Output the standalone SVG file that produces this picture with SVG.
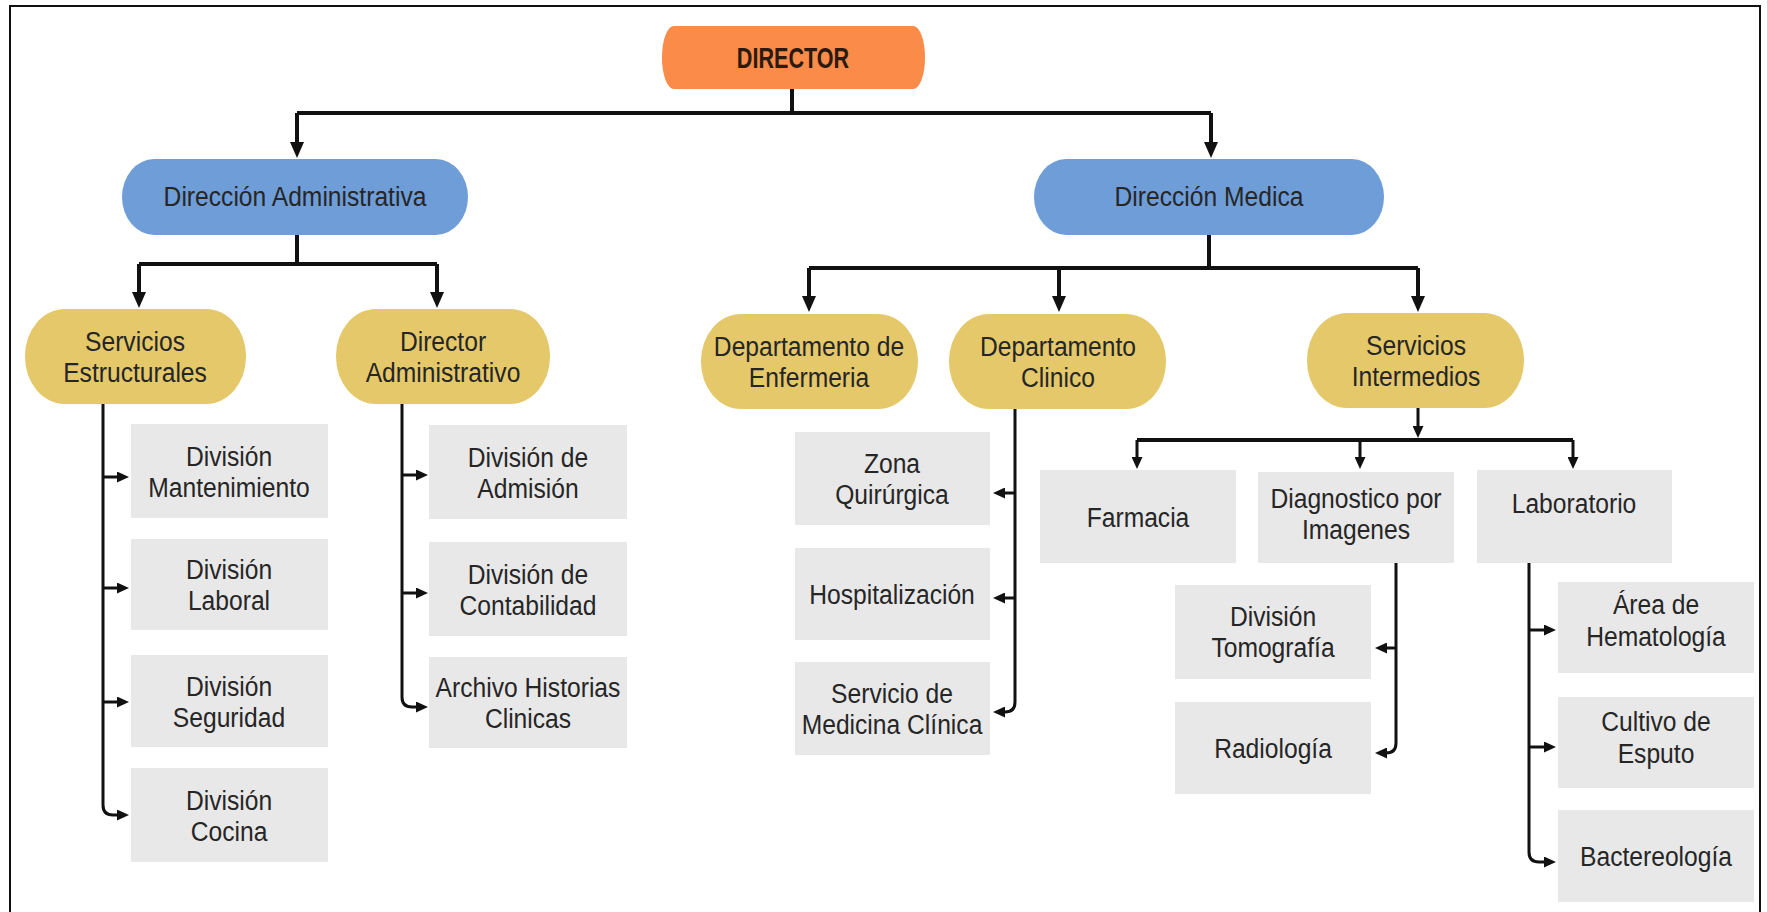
<svg xmlns="http://www.w3.org/2000/svg" width="1767" height="912" viewBox="0 0 1767 912">
<style>
.t{font-family:"Liberation Sans",Arial,sans-serif;font-size:28px;fill:#262626;text-anchor:middle}
.tb{font-family:"Liberation Sans",Arial,sans-serif;font-size:30px;font-weight:bold;fill:#2a1a10;text-anchor:middle}
.or{fill:#FA8B48}
.bl{fill:#6E9DD8}
.ye{fill:#E4C86A}
.gr{fill:#E8E8E8}
.c{fill:none;stroke:#111;stroke-width:4}
.cs{fill:none;stroke:#111;stroke-width:3}
</style>
<defs>
<marker id="ah" viewBox="0 0 16 14" refX="11" refY="7" markerWidth="16" markerHeight="14" markerUnits="userSpaceOnUse" orient="auto"><path d="M0,0 L16,7 L0,14 z" fill="#111"/></marker>
<marker id="as" viewBox="0 0 12 11" refX="7" refY="5.5" markerWidth="12" markerHeight="11" markerUnits="userSpaceOnUse" orient="auto"><path d="M0,0 L12,5.5 L0,11 z" fill="#111"/></marker>
</defs>
<rect x="10" y="6" width="1750" height="912" fill="#fff" stroke="#111" stroke-width="2"/>

<g id="connectors">
<path class="c" d="M792,89 V113"/>
<path class="c" d="M297,113 H1211"/>
<path class="c" d="M297,113 V153" marker-end="url(#ah)"/>
<path class="c" d="M1211,113 V153" marker-end="url(#ah)"/>
<path class="c" d="M297,235 V264"/>
<path class="c" d="M139,264 H437"/>
<path class="c" d="M139,264 V303" marker-end="url(#ah)"/>
<path class="c" d="M437,264 V303" marker-end="url(#ah)"/>
<path class="c" d="M1209,235 V268"/>
<path class="c" d="M809,268 H1418"/>
<path class="c" d="M809,268 V307" marker-end="url(#ah)"/>
<path class="c" d="M1059,268 V307" marker-end="url(#ah)"/>
<path class="c" d="M1418,268 V307" marker-end="url(#ah)"/>
<path class="cs" d="M103,404 V805 Q103,815 113,815 H124" marker-end="url(#as)"/>
<path class="cs" d="M103,477 H124" marker-end="url(#as)"/>
<path class="cs" d="M103,588 H124" marker-end="url(#as)"/>
<path class="cs" d="M103,702 H124" marker-end="url(#as)"/>
<path class="cs" d="M402,404 V697 Q402,707 412,707 H423" marker-end="url(#as)"/>
<path class="cs" d="M402,475 H423" marker-end="url(#as)"/>
<path class="cs" d="M402,593 H423" marker-end="url(#as)"/>
<path class="cs" d="M1015,409 V702 Q1015,712 1005,712 H998" marker-end="url(#as)"/>
<path class="cs" d="M1015,493 H998" marker-end="url(#as)"/>
<path class="cs" d="M1015,598 H998" marker-end="url(#as)"/>
<path class="cs" d="M1418,408 V433" marker-end="url(#as)"/>
<path class="c" d="M1137,440 H1573"/>
<path class="cs" d="M1137,440 V464" marker-end="url(#as)"/>
<path class="cs" d="M1360,440 V464" marker-end="url(#as)"/>
<path class="cs" d="M1573,440 V464" marker-end="url(#as)"/>
<path class="cs" d="M1396,563 V743 Q1396,753 1386,753 H1380" marker-end="url(#as)"/>
<path class="cs" d="M1396,648 H1380" marker-end="url(#as)"/>
<path class="cs" d="M1529,563 V852 Q1529,862 1539,862 H1551" marker-end="url(#as)"/>
<path class="cs" d="M1529,630 H1551" marker-end="url(#as)"/>
<path class="cs" d="M1529,747 H1551" marker-end="url(#as)"/>
</g>

<g id="director"><rect class="or" x="662" y="26" width="263" height="63" rx="12" ry="31"/><text class="tb" transform="translate(793,68) scale(0.72,1)">DIRECTOR</text></g>

<g id="dir-admin"><rect class="bl" x="122" y="159" width="346" height="76" rx="32" ry="38"/><text class="t" transform="translate(295,206) scale(0.88,1)">Dirección Administrativa</text></g>
<g id="dir-medica"><rect class="bl" x="1034" y="159" width="350" height="76" rx="32" ry="38"/><text class="t" transform="translate(1209,206) scale(0.88,1)">Dirección Medica</text></g>

<g id="serv-estructurales"><rect class="ye" x="25" y="309" width="221" height="95" rx="40" ry="47"/><text class="t" transform="translate(135,351) scale(0.88,1)"><tspan x="0">Servicios</tspan><tspan x="0" dy="31">Estructurales</tspan></text></g>
<g id="director-administrativo"><rect class="ye" x="336" y="309" width="214" height="95" rx="40" ry="47"/><text class="t" transform="translate(443,351) scale(0.88,1)"><tspan x="0">Director</tspan><tspan x="0" dy="31">Administrativo</tspan></text></g>
<g id="dep-enfermeria"><rect class="ye" x="701" y="314" width="217" height="95" rx="40" ry="47"/><text class="t" transform="translate(809,356) scale(0.88,1)"><tspan x="0">Departamento de</tspan><tspan x="0" dy="31">Enfermeria</tspan></text></g>
<g id="dep-clinico"><rect class="ye" x="949" y="314" width="217" height="95" rx="40" ry="47"/><text class="t" transform="translate(1058,356) scale(0.88,1)"><tspan x="0">Departamento</tspan><tspan x="0" dy="31">Clinico</tspan></text></g>
<g id="serv-intermedios"><rect class="ye" x="1307" y="313" width="217" height="95" rx="40" ry="47"/><text class="t" transform="translate(1416,355) scale(0.88,1)"><tspan x="0">Servicios</tspan><tspan x="0" dy="31">Intermedios</tspan></text></g>

<g id="div-mantenimiento"><rect class="gr" x="131" y="424" width="197" height="94"/><text class="t" transform="translate(229,466) scale(0.88,1)"><tspan x="0">División</tspan><tspan x="0" dy="31">Mantenimiento</tspan></text></g>
<g id="div-laboral"><rect class="gr" x="131" y="539" width="197" height="91"/><text class="t" transform="translate(229,579) scale(0.88,1)"><tspan x="0">División</tspan><tspan x="0" dy="31">Laboral</tspan></text></g>
<g id="div-seguridad"><rect class="gr" x="131" y="655" width="197" height="92"/><text class="t" transform="translate(229,696) scale(0.88,1)"><tspan x="0">División</tspan><tspan x="0" dy="31">Seguridad</tspan></text></g>
<g id="div-cocina"><rect class="gr" x="131" y="768" width="197" height="94"/><text class="t" transform="translate(229,810) scale(0.88,1)"><tspan x="0">División</tspan><tspan x="0" dy="31">Cocina</tspan></text></g>

<g id="div-admision"><rect class="gr" x="429" y="425" width="198" height="94"/><text class="t" transform="translate(528,467) scale(0.88,1)"><tspan x="0">División de</tspan><tspan x="0" dy="31">Admisión</tspan></text></g>
<g id="div-contabilidad"><rect class="gr" x="429" y="542" width="198" height="94"/><text class="t" transform="translate(528,584) scale(0.88,1)"><tspan x="0">División de</tspan><tspan x="0" dy="31">Contabilidad</tspan></text></g>
<g id="archivo"><rect class="gr" x="429" y="657" width="198" height="91"/><text class="t" transform="translate(528,697) scale(0.88,1)"><tspan x="0">Archivo Historias</tspan><tspan x="0" dy="31">Clinicas</tspan></text></g>

<g id="zona-quirurgica"><rect class="gr" x="795" y="432" width="195" height="93"/><text class="t" transform="translate(892,473) scale(0.88,1)"><tspan x="0">Zona</tspan><tspan x="0" dy="31">Quirúrgica</tspan></text></g>
<g id="hospitalizacion"><rect class="gr" x="795" y="548" width="195" height="92"/><text class="t" transform="translate(892,604) scale(0.88,1)">Hospitalización</text></g>
<g id="medicina-clinica"><rect class="gr" x="795" y="662" width="195" height="93"/><text class="t" transform="translate(892,703) scale(0.88,1)"><tspan x="0">Servicio de</tspan><tspan x="0" dy="31">Medicina Clínica</tspan></text></g>

<g id="farmacia"><rect class="gr" x="1040" y="470" width="196" height="93"/><text class="t" transform="translate(1138,527) scale(0.88,1)">Farmacia</text></g>
<g id="diagnostico"><rect class="gr" x="1258" y="472" width="196" height="91"/><text class="t" transform="translate(1356,508) scale(0.88,1)"><tspan x="0">Diagnostico por</tspan><tspan x="0" dy="31">Imagenes</tspan></text></g>
<g id="laboratorio"><rect class="gr" x="1477" y="470" width="195" height="93"/><text class="t" transform="translate(1574,513) scale(0.88,1)">Laboratorio</text></g>

<g id="tomografia"><rect class="gr" x="1175" y="585" width="196" height="94"/><text class="t" transform="translate(1273,626) scale(0.88,1)"><tspan x="0">División</tspan><tspan x="0" dy="31">Tomografía</tspan></text></g>
<g id="radiologia"><rect class="gr" x="1175" y="702" width="196" height="92"/><text class="t" transform="translate(1273,758) scale(0.88,1)">Radiología</text></g>

<g id="hematologia"><rect class="gr" x="1558" y="582" width="196" height="91"/><text class="t" transform="translate(1656,614) scale(0.88,1)"><tspan x="0">Área de</tspan><tspan x="0" dy="32">Hematología</tspan></text></g>
<g id="esputo"><rect class="gr" x="1558" y="697" width="196" height="91"/><text class="t" transform="translate(1656,731) scale(0.88,1)"><tspan x="0">Cultivo de</tspan><tspan x="0" dy="32">Esputo</tspan></text></g>
<g id="bactereologia"><rect class="gr" x="1558" y="810" width="196" height="92"/><text class="t" transform="translate(1656,866) scale(0.88,1)">Bactereología</text></g>
</svg>
